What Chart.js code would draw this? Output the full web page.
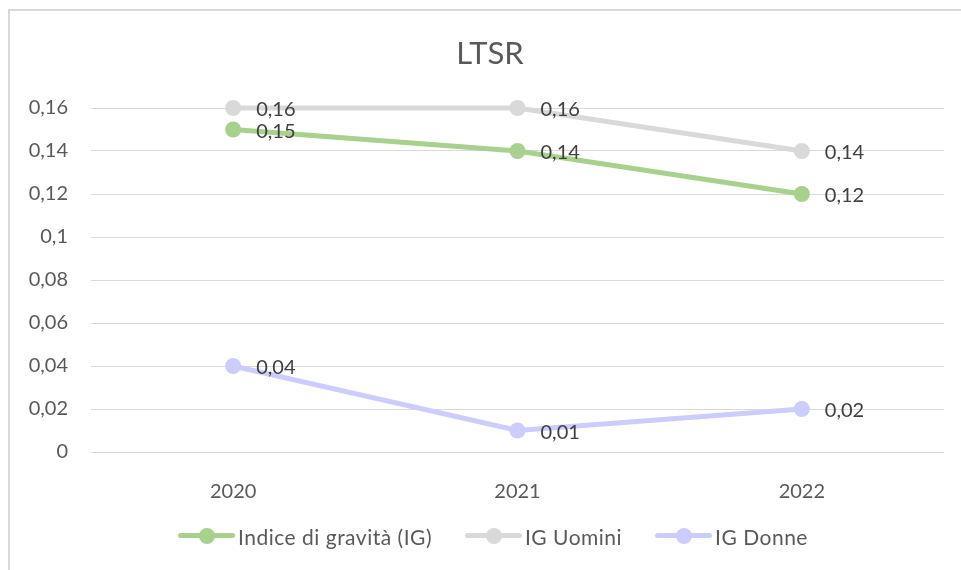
<!DOCTYPE html>
<html lang="it">
<head>
<meta charset="utf-8">
<title>LTSR</title>
<script src="https://cdn.jsdelivr.net/npm/chart.js@4"></script>
<style>
  html, body { margin: 0; padding: 0; background: #fff; overflow: hidden; }
  .wrap { position: relative; width: 961px; height: 570px; }
  .frame {
    position: absolute; left: 8px; top: 9px; width: 980px; height: 600px;
    border-top: 2px solid #d9d9d9; border-left: 2px solid #d9d9d9;
  }
  canvas { position: absolute; left: 0; top: 0; }
  .legend {
    position: absolute; left: 178px; top: 522px; height: 28px;
    display: flex; align-items: center;
    font: 21px Lato, sans-serif; letter-spacing: 0.5px; color: #595959;
  }
  .legend .item { display: flex; align-items: center; margin-right: 33px; }
  .legend .mark { position: relative; width: 57px; height: 16px; margin-right: 3px; }
  .legend .mark::before {
    content: ""; position: absolute; left: 0; right: 0; top: 5px; height: 5px;
    border-radius: 3px; background: var(--c);
  }
  .legend .mark::after {
    content: ""; position: absolute; left: 21px; top: 0; width: 16px; height: 16px;
    border-radius: 50%; background: var(--c);
  }
</style>
</head>
<body>
<div class="wrap">
  <div class="frame"></div>
  <canvas id="chart" width="961" height="570"></canvas>
  <div class="legend" id="legend"></div>
</div>
<script>
const chartTitle = "LTSR";
const years = ["2020", "2021", "2022"];
const seriesNames = ["Indice di gravità (IG)", "IG Uomini", "IG Donne"];
const igTotale = [0.15, 0.14, 0.12];
const igUomini = [0.16, 0.16, 0.14];
const igDonne = [0.04, 0.01, 0.02];
const seriesColors = ["#a9d18e", "#d9d9d9", "#ccccff"];

const yMin = 0;
const yMax = 0.16;
const yStep = 0.02;

const comma = v => String(Number(v.toFixed(2))).replace(".", ",");

// title centred on the outer frame rather than the canvas
const frameTitle = {
  id: "frameTitle",
  afterDraw(chart) {
    const ctx = chart.ctx;
    ctx.save();
    ctx.font = "31px Lato";
    ctx.fillStyle = "#595959";
    ctx.textAlign = "center";
    ctx.textBaseline = "middle";
    ctx.fillText(chartTitle, 490, 54);
    ctx.restore();
  }
};

// value labels to the right of each point
const valueLabels = {
  id: "valueLabels",
  afterDatasetsDraw(chart) {
    const ctx = chart.ctx;
    ctx.save();
    ctx.font = "20px Lato";
    ctx.fillStyle = "#404040";
    ctx.textAlign = "left";
    ctx.textBaseline = "middle";
    chart.data.datasets.forEach((ds, i) => {
      chart.getDatasetMeta(i).data.forEach((pt, j) => {
        ctx.fillText(comma(ds.data[j]), pt.x + 23, pt.y + 2);
      });
    });
    ctx.restore();
  }
};

const makeSet = (label, data, color) => ({
  label: label,
  data: data,
  borderColor: color,
  backgroundColor: color,
  pointBackgroundColor: color,
  pointBorderColor: color,
  borderWidth: 5,
  pointRadius: 8,
  pointHoverRadius: 8,
  pointBorderWidth: 0,
  tension: 0,
  clip: false,
  borderCapStyle: "round"
});

Chart.defaults.font.family = "Lato";

new Chart(document.getElementById("chart"), {
  type: "line",
  data: {
    labels: years,
    datasets: [
      makeSet(seriesNames[0], igTotale, seriesColors[0]),
      makeSet(seriesNames[1], igUomini, seriesColors[1]),
      makeSet(seriesNames[2], igDonne, seriesColors[2])
    ]
  },
  options: {
    responsive: false,
    animation: false,
    layout: { padding: { left: 0, right: 17, top: 108, bottom: 0 } },
    plugins: {
      legend: { display: false },
      tooltip: { enabled: false },
      title: { display: false }
    },
    scales: {
      x: {
        offset: true,
        grid: { display: false },
        border: { display: false },
        ticks: { color: "#595959", font: { size: 20 }, padding: 20 },
        afterFit(scale) { scale.height = 118; }
      },
      y: {
        min: yMin,
        max: yMax,
        grid: { color: "#d9d9d9", lineWidth: 1, drawTicks: false },
        border: { display: false },
        ticks: {
          stepSize: yStep,
          color: "#595959",
          font: { size: 20 },
          padding: 23,
          callback: v => comma(v)
        },
        afterFit(scale) { scale.width = 91; }
      }
    }
  },
  plugins: [valueLabels, frameTitle]
});

// legend with line-and-marker swatches
const legend = document.getElementById("legend");
seriesNames.forEach((name, i) => {
  const item = document.createElement("div");
  item.className = "item";
  item.innerHTML = `<span class="mark" style="--c:${seriesColors[i]}"></span><span>${name}</span>`;
  legend.appendChild(item);
});
</script>
</body>
</html>
